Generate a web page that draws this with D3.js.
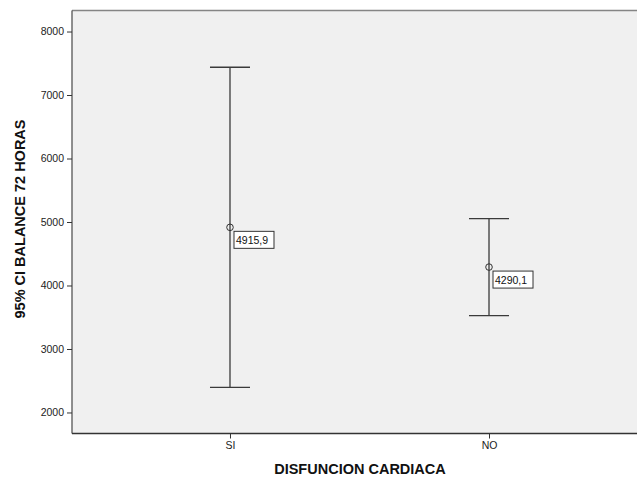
<!DOCTYPE html>
<html>
<head>
<meta charset="utf-8">
<script src="https://cdn.jsdelivr.net/npm/d3@7"></script>
<style>
  html, body { margin: 0; padding: 0; background: #fff; }
  svg { display: block; font-family: "Liberation Sans", Arial, sans-serif; }
</style>
</head>
<body>
<svg id="chart" width="637" height="479"></svg>
<script>
// Mean of BALANCE 72 HORAS with 95% confidence interval, by DISFUNCION CARDIACA
const categories = ["SI", "NO"];
const means = [4915.9, 4290.1];
const lower = [2395, 3526];
const upper = [7437, 5054];
const meanLabels = ["4915,9", "4290,1"];
const yTicks = [2000, 3000, 4000, 5000, 6000, 7000, 8000];

const svg = d3.select("#chart");
const plotLeft = 72, plotRight = 647, plotTop = 10.5, plotBottom = 433.5;

const x = d3.scalePoint().domain(categories).range([plotLeft, plotRight]).padding(0.61);
const y = d3.scaleLinear().domain([1669, 8331]).range([plotBottom, plotTop]);

// plot background and frame
svg.append("rect")
  .attr("x", plotLeft).attr("y", plotTop)
  .attr("width", 637 - plotLeft).attr("height", plotBottom - plotTop)
  .attr("fill", "#f0f0f0");
svg.append("line")
  .attr("x1", plotLeft).attr("x2", 637).attr("y1", plotTop).attr("y2", plotTop)
  .attr("stroke", "#858585").attr("stroke-width", 1.5);

// y axis
const yAxis = svg.append("g")
  .attr("transform", `translate(${plotLeft},0)`)
  .call(d3.axisLeft(y).tickValues(yTicks).tickSize(5).tickPadding(3).tickFormat(d3.format("d")));
yAxis.select(".domain").attr("stroke", "#555").attr("stroke-width", 1.3).attr("d", `M0,${plotTop}V${plotBottom}`);
yAxis.selectAll(".tick line").attr("stroke", "#333");
yAxis.selectAll(".tick text").attr("font-size", 10.5).attr("fill", "#222")
  .attr("font-family", "'Liberation Sans', Arial, sans-serif");

// x axis
const xAxis = svg.append("g")
  .attr("transform", `translate(0,${plotBottom})`)
  .call(d3.axisBottom(x).tickSize(5).tickPadding(3));
xAxis.select(".domain").attr("stroke", "#333").attr("stroke-width", 1.3).attr("d", `M${plotLeft},0H637`);
xAxis.selectAll(".tick line").attr("stroke", "#333");
xAxis.selectAll(".tick text").attr("font-size", 10.5).attr("fill", "#222")
  .attr("font-family", "'Liberation Sans', Arial, sans-serif");

// axis titles
svg.append("text")
  .attr("transform", `translate(25,${(plotTop + plotBottom) / 2 - 3}) rotate(-90)`)
  .attr("text-anchor", "middle")
  .attr("font-size", 14.5).attr("font-weight", "bold").attr("fill", "#111")
  .text("95% CI BALANCE 72 HORAS");
svg.append("text")
  .attr("x", 360).attr("y", 474)
  .attr("text-anchor", "middle")
  .attr("font-size", 14.5).attr("font-weight", "bold").attr("fill", "#111")
  .text("DISFUNCION CARDIACA");

// error bars
const capHalf = 20;
const bars = svg.append("g").selectAll("g").data(categories).join("g");
bars.append("line")
  .attr("x1", d => x(d)).attr("x2", d => x(d))
  .attr("y1", (d, i) => y(upper[i])).attr("y2", (d, i) => y(lower[i]))
  .attr("stroke", "#3a3a3a").attr("stroke-width", 1.3);
bars.append("line")
  .attr("x1", d => x(d) - capHalf).attr("x2", d => x(d) + capHalf)
  .attr("y1", (d, i) => y(upper[i])).attr("y2", (d, i) => y(upper[i]))
  .attr("stroke", "#3a3a3a").attr("stroke-width", 1.3);
bars.append("line")
  .attr("x1", d => x(d) - capHalf).attr("x2", d => x(d) + capHalf)
  .attr("y1", (d, i) => y(lower[i])).attr("y2", (d, i) => y(lower[i]))
  .attr("stroke", "#3a3a3a").attr("stroke-width", 1.3);
bars.append("circle")
  .attr("cx", d => x(d)).attr("cy", (d, i) => y(means[i]))
  .attr("r", 3.3)
  .attr("fill", "none").attr("stroke", "#333").attr("stroke-width", 1);

// value labels
bars.append("rect")
  .attr("x", d => x(d) + 4).attr("y", (d, i) => y(means[i]) + 4)
  .attr("width", 40).attr("height", 17)
  .attr("fill", "#fff").attr("stroke", "#333").attr("stroke-width", 1);
bars.append("text")
  .attr("x", d => x(d) + 6).attr("y", (d, i) => y(means[i]) + 16.5)
  .attr("font-size", 10.5).attr("fill", "#111")
  .text((d, i) => meanLabels[i]);
</script>
</body>
</html>
